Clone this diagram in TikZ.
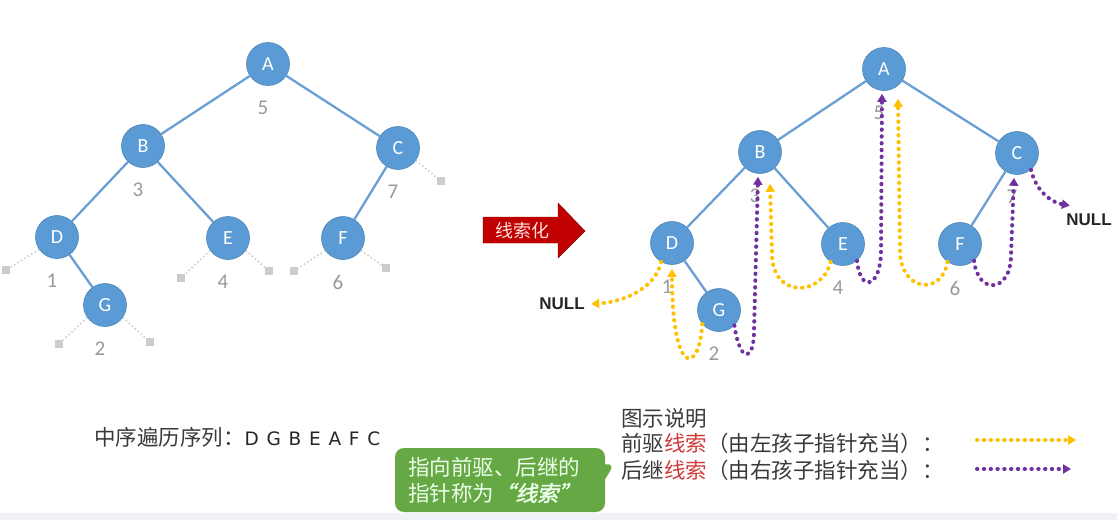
\documentclass[tikz,border=0pt]{standalone}
\usepackage{fontspec}
\setmainfont{Carlito}
\newfontfamily\cjk{Noto Sans CJK SC}
\newfontfamily\cjkemph[FakeSlant=0.22,FakeBold=2]{Noto Sans CJK SC}
\newfontfamily\verd[LetterSpace=10]{DejaVu Sans}
\newfontfamily\arial{Liberation Sans}
\usetikzlibrary{arrows.meta,positioning,calc,shapes.callouts}
\definecolor{nodeblue}{HTML}{5B9BD5}
\definecolor{edgeblue}{HTML}{6A9FD6}
\definecolor{predyellow}{HTML}{FFC000}
\definecolor{succpurple}{HTML}{7030A0}
\definecolor{arrowred}{HTML}{C00000}
\definecolor{threadred}{HTML}{D03A3A}
\definecolor{tipgreen}{HTML}{66A844}
\definecolor{textgrey}{HTML}{3A3A3A}
\definecolor{bandgrey}{HTML}{F0F2F8}

\begin{document}
\begin{tikzpicture}[x=1pt,y=-1pt,
    vertex/.style={circle,fill=nodeblue,draw=nodeblue!85!black,line width=0.6pt,minimum size=43pt,inner sep=0pt,text=white,font=\fontsize{20}{24}\selectfont},
    edge/.style={edgeblue,line width=2.3pt},
    order/.style={text=black!40,font=\fontsize{21}{24}\selectfont},
    nilbox/.style={rectangle,fill=black!20,minimum size=8pt,inner sep=0pt},
    nilline/.style={black!20,line width=1.6pt,dash pattern=on 1.5pt off 2.5pt},
    thread/.style={line width=4pt,line cap=round,dash pattern=on 0.4pt off 6.4pt},
    pred/.style={thread,predyellow,-{Triangle[length=8pt,width=9pt]}},
    succ/.style={thread,succpurple,-{Triangle[length=8pt,width=9pt]}},
    nulltext/.style={font=\arial\bfseries\fontsize{17}{20}\selectfont,text=black!85},
    cjktext/.style={font=\cjk\fontsize{21.5}{26}\selectfont,text=textgrey,inner sep=0pt}
]
\useasboundingbox (0,0) rectangle (1117,520);
\fill[bandgrey] (0,513) rectangle (1117,520);
\foreach \name/\x/\y in {A/268/64,B/143/146,C/398/148,D/57/237,E/228/238,F/343/238,G/105/305}
    \node[vertex] (\name) at (\x,\y) {\name};
\foreach \name/\x/\y in {A/884/69,B/760/152,C/1017/153,D/672/243,E/843/244,F/960/244,G/719/310}
    \node[vertex] (r\name) at (\x,\y) {\name};
\foreach \a/\b in {A/B,A/C,B/D,B/E,C/F,D/G}
{
    \draw[edge] (\a) -- (\b);
    \draw[edge] (r\a) -- (r\b);
}
\foreach \name/\k in {A/5,B/3,C/7,D/1,E/4,F/6,G/2}
{
    \node[order] (n\name) at ($(\name)+(-5,44)$) {\k};
    \node[order] (rn\name) at ($(r\name)+(-5,44)$) {\k};
}
\foreach \name/\ang/\x/\y [count=\i] in {C/-35/441/181,D/215/6/270,E/215/181/278,E/-35/269/271,F/215/294/271,F/-35/386/268,G/215/59/344,G/-35/150/342}
{
    \node[nilbox] (nil\i) at (\x,\y) {};
    \draw[nilline] (\name.\ang) -- (nil\i);
}
\fill[arrowred,draw=arrowred!70!black] (483,217) -- (558,217) -- (558,203) -- (585,231) -- (558,258) -- (558,243) -- (483,243) -- cycle;
\node[font=\cjk\fontsize{18}{20}\selectfont,text=red!12] (threadify) at (522,231) {线索化};
\node[nulltext] (null1) at (562,304) {NULL};
\node[nulltext] (null2) at (1089,220) {NULL};
\draw[pred] (rD.240) .. controls +(-6,28) and +(30,-2) .. ([xshift=3pt]null1.east);
\draw[pred] (rG.220) .. controls +(-3,50) and +(0,110) .. ([yshift=-4pt]rD.south);
\draw[succ] (rG.-45) .. controls +(6,40) and +(0,30) .. ($(rB.south)+(-6,157)$) -- ([xshift=-2pt,yshift=-3pt]rB.south);
\draw[pred] (rE.235) .. controls +(-8,35) and +(0,45) .. ($(rB.south)+(12,80)$) -- ([xshift=10pt,yshift=-10pt]rB.south);
\draw[succ] (rE.-50) .. controls +(4,35) and +(0,35) .. ($(rA.south)+(-3,160)$) -- ([xshift=-2pt,yshift=-3pt]rA.south);
\draw[pred] (rF.235) .. controls +(-6,35) and +(0,40) .. ($(rA.south)+(16,160)$) -- ([xshift=14pt,yshift=-8pt]rA.south);
\draw[succ] (rF.-50) .. controls +(4,35) and +(0,38) .. ($(rC.south)+(-6,80)$) -- ([xshift=-3pt,yshift=-3pt]rC.south);
\draw[succ] (rC.-50) .. controls +(5,22) and +(-18,-3) .. ([xshift=7pt,yshift=5pt]null2.north west);
\node[cjktext,anchor=west] (inorder) at (94,437) {中序遍历序列：{\verd\fontsize{18.5}{22}\selectfont\color{black!85}D G B E A F C}};
\node[rectangle callout,callout absolute pointer={(615,463)},callout pointer width=15pt,fill=tipgreen,rounded corners=9pt,
    text width=184pt,inner xsep=13pt,minimum height=64pt,align=left,text=white!92!green,font=\cjk\fontsize{21.5}{26}\selectfont] (tip) at (500,480)
    {指向前驱、后继的\\指针称为{\cjkemph “线索”}};
\node[cjktext,anchor=west] (legtitle) at (621,418) {图示说明};
\node[cjktext,anchor=west] (legpred) at (621,443) {前驱{\color{threadred}线索}（由左孩子指针充当）：};
\node[cjktext,anchor=west] (legsucc) at (621,470) {后继{\color{threadred}线索}（由右孩子指针充当）：};
\coordinate (pa) at (977,440);
\coordinate (pb) at (1076,440);
\coordinate (sa) at (977,469);
\coordinate (sb) at (1071,469);
\draw[pred] (pa) -- (pb);
\draw[succ] (sa) -- (sb);
\end{tikzpicture}
\end{document}
